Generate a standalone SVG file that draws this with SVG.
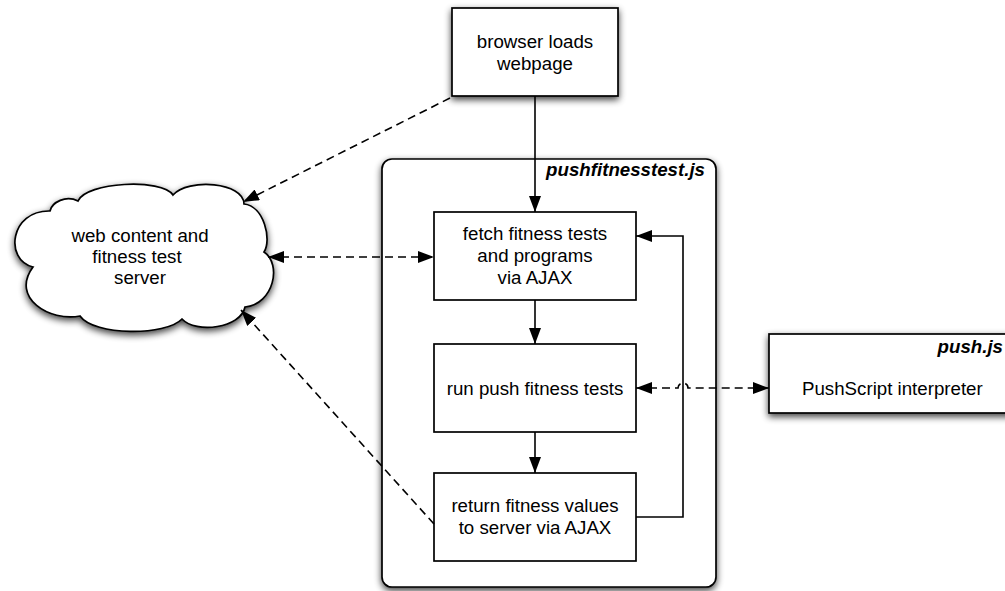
<svg xmlns="http://www.w3.org/2000/svg" width="1005" height="591" viewBox="0 0 1005 591">
<style>
.box{fill:#fff;stroke:#000;stroke-width:1.7}
.t{font-family:"Liberation Sans",Arial,Helvetica,sans-serif;font-size:18.7px;fill:#000}
.c{text-anchor:middle}
.bi{font-weight:bold;font-style:italic}
.ln{fill:none;stroke:#000;stroke-width:1.6}
.da{stroke-dasharray:8,5}
</style>
<defs>
<filter id="sh" x="-20%" y="-20%" width="140%" height="140%">
<feGaussianBlur in="SourceAlpha" stdDeviation="3.5"/>
<feOffset dx="0" dy="3" result="b"/>
<feComponentTransfer><feFuncA type="linear" slope="0.75"/></feComponentTransfer>
<feMerge><feMergeNode/><feMergeNode in="SourceGraphic"/></feMerge>
</filter>
<marker id="arr" viewBox="0 0 16 12" refX="16" refY="6" markerWidth="16" markerHeight="12" markerUnits="userSpaceOnUse" orient="auto-start-reverse">
<path d="M0,0 L16,6 L0,12 z" fill="#000"/>
</marker>
</defs>

<g id="container">
<rect class="box" x="382" y="159" width="334" height="428" rx="10" filter="url(#sh)"/>
<text class="t bi" x="705" y="176" text-anchor="end">pushfitnesstest.js</text>
</g>

<g id="browser">
<rect class="box" x="452" y="8" width="166" height="88" filter="url(#sh)"/>
<text class="t c" x="535" y="48">browser loads</text>
<text class="t c" x="535" y="70">webpage</text>
</g>

<g id="cloud">
<path class="box" filter="url(#sh)" d="M78,201 C86,182 162,178 173,195 C188,178 244,182 244,204 C264,206 272,240 264,252 C282,264 274,304 245,307 C241,328 196,334 182,319 C166,336 94,336 80,316 C50,322 10,298 33,267 C4,260 10,210 50,211 C52,202 66,195 78,201 Z"/>
<text class="t c" x="140" y="242">web content and</text>
<text class="t c" x="137" y="263">fitness test</text>
<text class="t c" x="140" y="284">server</text>
</g>

<g id="fetch">
<rect class="box" x="434" y="212" width="202" height="88"/>
<text class="t c" x="535" y="240">fetch fitness tests</text>
<text class="t c" x="535" y="262">and programs</text>
<text class="t c" x="535" y="284">via AJAX</text>
</g>

<g id="run">
<rect class="box" x="434" y="344" width="202" height="88"/>
<text class="t c" x="535" y="395">run push fitness tests</text>
</g>

<g id="return">
<rect class="box" x="434" y="473" width="202" height="88"/>
<text class="t c" x="535" y="512">return fitness values</text>
<text class="t c" x="535" y="534">to server via AJAX</text>
</g>

<g id="push">
<rect class="box" x="769" y="334" width="245" height="79" filter="url(#sh)"/>
<text class="t bi" x="1003" y="353" text-anchor="end">push.js</text>
<text class="t" x="802" y="395">PushScript interpreter</text>
</g>

<g id="connectors">
<path class="ln" d="M535,96 V212" marker-end="url(#arr)"/>
<path class="ln" d="M535,300 V344" marker-end="url(#arr)"/>
<path class="ln" d="M535,432 V473" marker-end="url(#arr)"/>
<path class="ln" d="M636,517 H683 V236 H636" marker-end="url(#arr)"/>
<path class="ln da" d="M450,98 L243,202" marker-end="url(#arr)"/>
<path class="ln da" d="M268,257 H434" marker-start="url(#arr)" marker-end="url(#arr)"/>
<path class="ln da" d="M434,524 L241,310" marker-end="url(#arr)"/>
<path class="ln da" d="M636,388 H678 A5,5 0 0 1 688,388 H769" marker-start="url(#arr)" marker-end="url(#arr)"/>
</g>
</svg>
